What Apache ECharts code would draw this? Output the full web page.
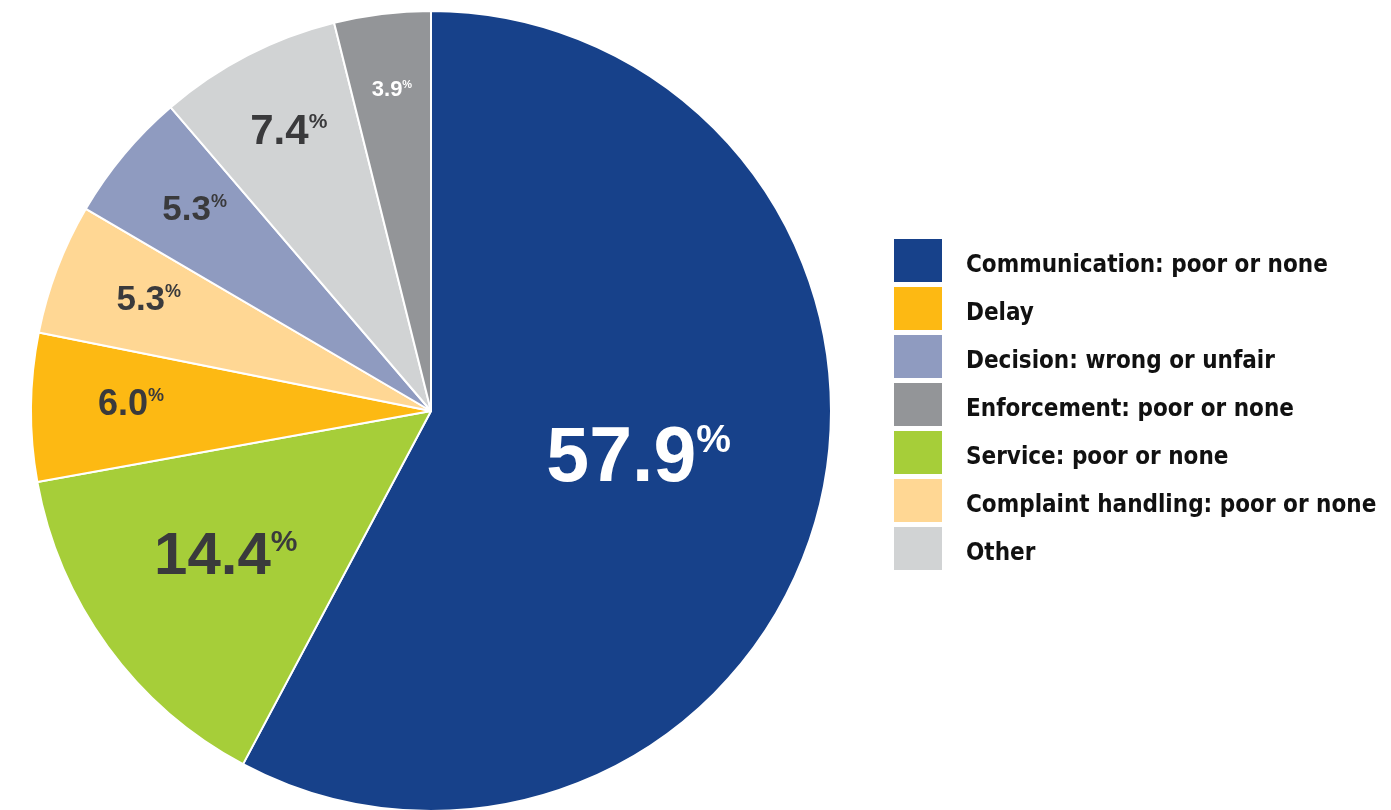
<!DOCTYPE html>
<html>
<head>
<meta charset="utf-8">
<script src="https://cdn.jsdelivr.net/npm/echarts@6/dist/echarts.min.js"></script>
<style>
html,body{margin:0;padding:0;background:#fff;}
#chart{width:1391px;height:810px;}
</style>
</head>
<body>
<div id="chart"></div>
<script>
// Data (pie order, clockwise from 12 o'clock)
const categories = [
  "Communication: poor or none",
  "Service: poor or none",
  "Delay",
  "Complaint handling: poor or none",
  "Decision: wrong or unfair",
  "Other",
  "Enforcement: poor or none"
];
const values = [57.9, 14.4, 6.0, 5.3, 5.3, 7.4, 3.9];
const legendOrder = [
  "Communication: poor or none",
  "Delay",
  "Decision: wrong or unfair",
  "Enforcement: poor or none",
  "Service: poor or none",
  "Complaint handling: poor or none",
  "Other"
];

// Styles
const colors = ["#17418A", "#A6CE39", "#FDB913", "#FFD794", "#8F9BC0", "#D1D3D4", "#939598"];
const labelColors = ["#FFFFFF", "#3A3A3C", "#3A3A3C", "#3A3A3C", "#3A3A3C", "#3A3A3C", "#FFFFFF"];
const labelSizes = [77, 60, 36, 35, 35, 42, 22];
const labelRadiusRatio = [0.535, 0.635, 0.75, 0.755, 0.77, 0.775, 0.8];

const LABEL_FONT = '"Liberation Sans", Arial, sans-serif';
const LEGEND_FONT = '"DejaVu Sans Condensed", "Liberation Sans", sans-serif';
const CX = 431, CY = 411, R = 400;

const data = categories.map((name, i) => {
  const s = labelSizes[i];
  return {
    name: name,
    value: values[i],
    itemStyle: { color: colors[i] },
    label: {
      rich: {
        n: { fontSize: s, fontWeight: 'bold', color: labelColors[i], fontFamily: LABEL_FONT, lineHeight: s },
        p: { fontSize: Math.round(s * 0.5), fontWeight: 'bold', color: labelColors[i], fontFamily: LABEL_FONT, verticalAlign: 'top', lineHeight: s * 0.68 }
      }
    }
  };
});

const chart = echarts.init(document.getElementById('chart'), null, { renderer: 'canvas' });
chart.setOption({
  animation: false,
  backgroundColor: '#ffffff',
  legend: {
    orient: 'vertical',
    left: 894,
    top: 239,
    padding: 0,
    data: legendOrder,
    icon: 'rect',
    itemWidth: 48,
    itemHeight: 43,
    itemGap: 5,
    selectedMode: false,
    itemStyle: { borderWidth: 0 },
    formatter: name => '{s|}{t|' + name + '}',
    textStyle: {
      padding: [0, 0, 0, 19],
      rich: {
        s: { height: 35, width: 0 },
        t: {
          fontFamily: LEGEND_FONT,
          fontWeight: 'bold',
          fontSize: 24,
          lineHeight: 29,
          color: '#111111',
          verticalAlign: 'bottom'
        }
      }
    }
  },
  series: [{
    type: 'pie',
    center: [CX, CY],
    radius: [0, R],
    startAngle: 90,
    clockwise: true,
    avoidLabelOverlap: false,
    silent: true,
    itemStyle: { borderColor: '#ffffff', borderWidth: 2 },
    label: {
      show: true,
      position: 'inside',
      formatter: p => '{n|' + p.value.toFixed(1) + '}{p|%}'
    },
    labelLine: { show: false },
    labelLayout: function (p) {
      const r = p.labelRect;
      const lx = r.x + r.width / 2, ly = r.y + r.height / 2;
      const dx = lx - CX, dy = ly - CY;
      const d = Math.hypot(dx, dy) || 1;
      const k = (labelRadiusRatio[p.dataIndex] * R) / d;
      return { x: CX + dx * k, y: CY + dy * k - 3, align: 'center', verticalAlign: 'middle' };
    },
    data: data
  }]
});
</script>
</body>
</html>
